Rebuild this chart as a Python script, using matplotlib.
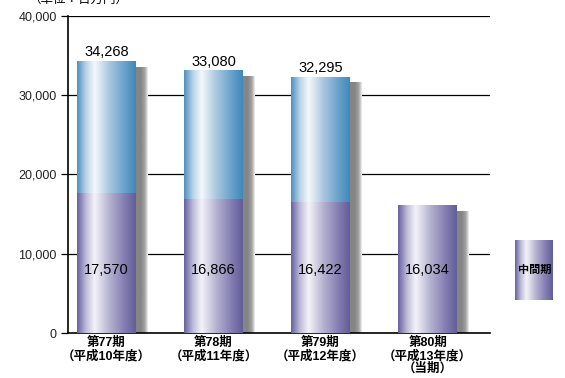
import matplotlib.pyplot as plt
import numpy as np
from matplotlib.colors import LinearSegmentedColormap

plt.rcParams['font.family'] = ['Liberation Sans', 'Noto Sans CJK JP']

periods = ['第77期\n（平成10年度）', '第78期\n（平成11年度）', '第79期\n（平成12年度）',
           '第80期\n（平成13年度）\n（当期）']
annual = [34268, 33080, 32295, None]
interim = [17570, 16866, 16422, 16034]
legend_label = '中間期'

blue = LinearSegmentedColormap.from_list('blue', [
    (0.0, '#4f8fc0'), (0.15, '#b9d3e8'), (0.3, '#f4f8fb'), (0.55, '#a9c7df'),
    (0.8, '#6ba3cb'), (1.0, '#3f88ba')])
purple = LinearSegmentedColormap.from_list('purple', [
    (0.0, '#66609e'), (0.15, '#bdbad8'), (0.3, '#f4f3f8'), (0.55, '#b5b2d0'),
    (0.8, '#847fb2'), (1.0, '#625c98')])
shadow = LinearSegmentedColormap.from_list('shadow', [
    (0.0, '#858585'), (0.88, '#858585'), (0.95, '#a5a5a5'), (1.0, '#f0f0f0')])
grad = np.linspace(0, 1, 256).reshape(1, -1)

fig = plt.figure(figsize=(5.65, 3.78), dpi=100)
ax = fig.add_axes([0.120, 0.119, 0.747, 0.839])

w = 0.55
dx = 0.11
for i in range(len(periods)):
    top = annual[i] if annual[i] is not None else interim[i]
    # shadow
    ax.imshow(grad, cmap=shadow, aspect='auto', zorder=2,
              extent=[i - w / 2 + dx, i + w / 2 + dx, 0, top - 750])
    if annual[i] is not None:
        ax.imshow(grad, cmap=blue, aspect='auto', zorder=3,
                  extent=[i - w / 2, i + w / 2, interim[i], annual[i]])
        ax.text(i, annual[i] + 250, f'{annual[i]:,}', ha='center', va='bottom',
                fontsize=10.5, zorder=5)
    ax.imshow(grad, cmap=purple, aspect='auto', zorder=3,
              extent=[i - w / 2, i + w / 2, 0, interim[i]])
    ax.text(i, 8000, f'{interim[i]:,}', ha='center', va='center', fontsize=10.5, zorder=5)

for y in [10000, 20000, 30000, 40000]:
    ax.axhline(y, color='black', lw=0.9, zorder=1)

ax.set_xlim(-0.36, 3.58)
ax.set_ylim(0, 40000)
ax.set_yticks([0, 10000, 20000, 30000, 40000])
ax.set_yticklabels(['0', '10,000', '20,000', '30,000', '40,000'], fontsize=9, color='#222222')
ax.set_xticks(range(len(periods)))
ax.set_xticklabels(periods, fontsize=9, fontweight='bold', linespacing=1.05)
ax.tick_params(axis='x', length=0, pad=3)
ax.tick_params(axis='y', length=5, width=0.9, pad=3)
for s in ['top', 'right']:
    ax.spines[s].set_visible(False)
for s in ['left', 'bottom']:
    ax.spines[s].set_linewidth(1.2)

fig.text(0.05, 1.0, '（単位：百万円）', fontsize=9, va='center', ha='left')

# legend
lax = fig.add_axes([0.912, 0.206, 0.067, 0.159])
lax.imshow(grad, cmap=purple, aspect='auto', extent=[0, 1, 0, 1])
lax.text(0.5, 0.5, legend_label, ha='center', va='center', fontsize=8, fontweight='bold')
lax.set_xlim(0, 1)
lax.set_ylim(0, 1)
lax.axis('off')

fig.savefig('out.png', dpi=100)
